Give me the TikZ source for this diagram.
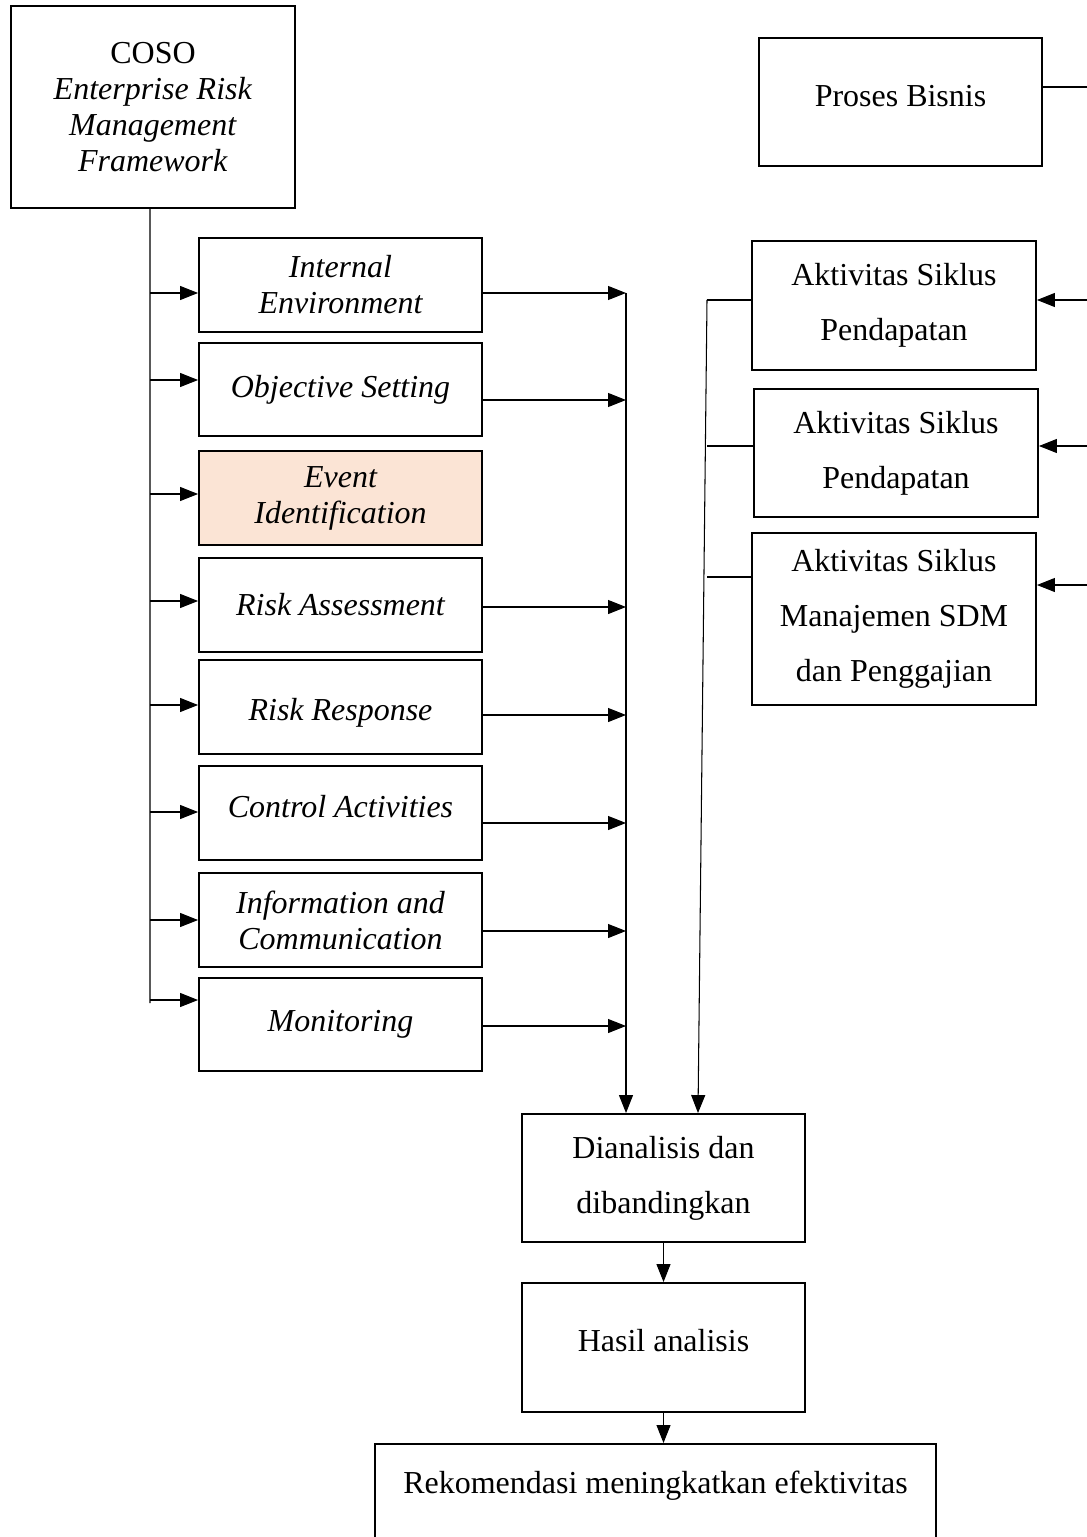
\documentclass[tikz,border=0pt]{standalone}
\usepackage{fontspec}
\setmainfont{Liberation Serif}
\usetikzlibrary{arrows.meta}
\definecolor{peach}{HTML}{FBE4D5}
\begin{document}
\begin{tikzpicture}[x=0.02cm,y=-0.02cm,
  box/.style={draw,line width=1.1pt,inner sep=0pt,align=center,
    font={\fontsize{18.2}{20.5}\selectfont}},
  lbox/.style={box,minimum width=5.66cm,minimum height=1.88cm,font={\fontsize{18.2}{20.5}\selectfont\itshape}},
  wbox/.style={box,font={\fontsize{18.2}{31.3}\selectfont}},
  conn/.style={line width=0.6pt},
  arr/.style={conn,-{Triangle[length=0.36cm,width=0.28cm]}}]
\path[use as bounding box] (0,0) rectangle (1087,1537);
\clip (0,0) rectangle (1087,1537);

% left column
\node[box,minimum width=5.68cm,minimum height=4.04cm] (coso) at (153,107)
  {COSO\\ \textit{Enterprise Risk}\\ \textit{Management}\\ \textit{Framework}};
\node[lbox] (ie) at (340.5,285) {Internal\\ Environment};
\node[lbox,minimum height=1.86cm] (os) at (340.5,389.5) {Objective Setting};
\node[lbox,fill=peach] (ei) at (340.5,498) {Event\\ Identification};
\node[lbox] (ra) at (340.5,605) {Risk Assessment};
\node[lbox,text height=0.68cm] (rr) at (340.5,707) {Risk Response};
\node[lbox,text depth=0.28cm] (ca) at (340.5,813) {Control Activities};
\node[lbox] (ic) at (340.5,920) {Information and\\ Communication};
\node[lbox,minimum height=1.86cm] (mo) at (340.5,1024.5) {Monitoring};

% right column
\node[box,minimum width=5.66cm,minimum height=2.56cm,text depth=0.24cm] (proses) at (900.5,102) {Proses Bisnis};
\node[wbox,minimum width=5.68cm,minimum height=2.58cm] (akt1) at (894,305.5) {Aktivitas Siklus\\ Pendapatan};
\node[wbox,minimum width=5.68cm,minimum height=2.56cm] (akt2) at (896,453) {Aktivitas Siklus\\ Pendapatan};
\node[wbox,minimum width=5.68cm,minimum height=3.44cm] (akt3) at (894,619) {Aktivitas Siklus\\ Manajemen SDM\\ dan Penggajian};

% bottom
\node[wbox,minimum width=5.66cm,minimum height=2.56cm] (dian) at (663.5,1178) {Dianalisis dan\\ dibandingkan};
\node[wbox,minimum width=5.66cm,minimum height=2.58cm,text depth=0.28cm] (hasil) at (663.5,1347.5) {Hasil analisis};
\node[draw,line width=1.1pt,minimum width=11.22cm,minimum height=3cm,anchor=north] (rek) at (655.5,1443) {};
\node[font={\fontsize{18.2}{20.5}\selectfont}] (rektext) at (655.5,1486) {Rekomendasi meningkatkan efektivitas};

% coordinates
\coordinate (trunkTop) at ([xshift=-0.06cm]coso.south);
\coordinate (trunkBot) at (150,1003);
\coordinate (colTop) at (626,293);
\coordinate (bus) at (707,300);
\coordinate (rightEdge) at (1087,87);

% trunk and branches
\draw[conn,line width=0.8pt] (trunkTop) -- (trunkBot);
\foreach \n/\s in {ie/-0.16,os/0.19,ei/0.08,ra/0.08,rr/0.04,ca/0.02,ic/0,mo/0.49}{
  \coordinate (\n-in) at ([yshift=\s cm]\n.west);
  \draw[arr] (trunkTop |- \n-in) -- (\n-in);
}
\foreach \n/\s in {ie/-0.16,os/-0.21,ra/-0.04,rr/-0.16,ca/-0.2,ic/-0.22,mo/-0.03}{
  \coordinate (\n-out) at ([yshift=\s cm]\n.east);
  \draw[arr] (\n-out) -- (colTop |- \n-out);
}
\draw[arr] (colTop) -- (colTop |- dian.north);

% aktivitas bus
\foreach \n/\s in {akt1/0.11,akt2/0.14,akt3/0.84}{
  \coordinate (\n-w) at ([yshift=\s cm]\n.west);
  \draw[conn] (\n-w) -- (bus |- \n-w);
}
\coordinate (dianIn) at ([xshift=0.69cm]dian.north);
\draw[arr] (bus) -- (dianIn);

% right edge
\coordinate (proses-out) at ([yshift=0.30cm]proses.east);
\draw[conn] (proses-out) -- (rightEdge |- proses-out);
\foreach \n/\s in {akt1/0.11,akt2/0.14,akt3/0.68}{
  \coordinate (\n-e) at ([yshift=\s cm]\n.east);
  \draw[arr] (rightEdge |- \n-e) -- (\n-e);
}

% down arrows
\draw[arr] (dian.south) -- (hasil.north);
\draw[arr] (hasil.south) -- (hasil.south |- rek.north);
\end{tikzpicture}
\end{document}
